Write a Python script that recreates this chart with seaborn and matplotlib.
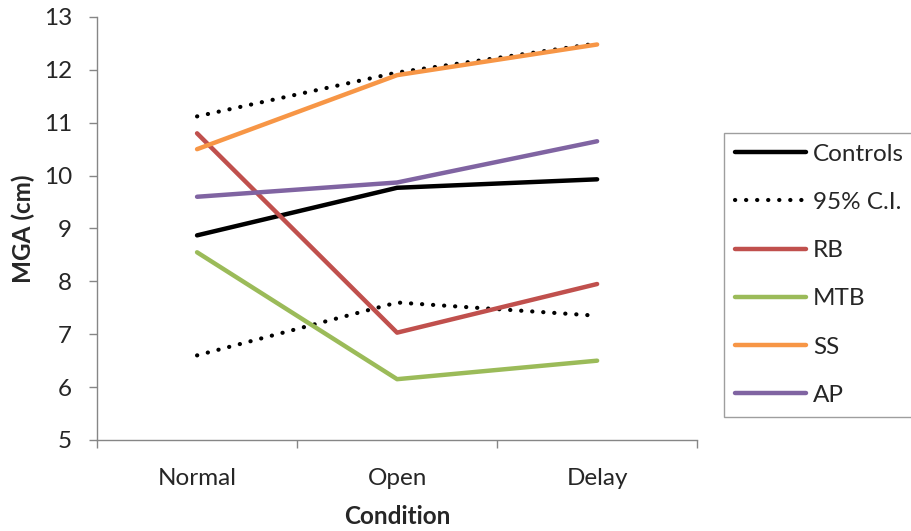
import matplotlib
matplotlib.use('Agg')
import matplotlib.pyplot as plt
import pandas as pd
import seaborn as sns

conditions = ['Normal', 'Open', 'Delay']
controls = [8.87, 9.77, 9.93]
ci_upper = [11.12, 11.95, 12.50]
ci_lower = [6.60, 7.60, 7.35]
rb = [10.80, 7.03, 7.95]
mtb = [8.55, 6.15, 6.50]
ss = [10.50, 11.90, 12.48]
ap = [9.60, 9.87, 10.65]

sns.set_style('white')
plt.rcParams['font.family'] = ['Lato', 'DejaVu Sans']

gray = '#868686'
fs = 17.5
fig = plt.figure(figsize=(9.12, 5.31), dpi=100)
ax = fig.add_axes([0.1064, 0.1714, 0.658, 0.7966])

x = list(range(len(conditions)))
series = [
    ('Controls', controls, '#000000', '-'),
    ('95% C.I.', ci_upper, '#000000', ':'),
    ('_ci_low', ci_lower, '#000000', ':'),
    ('RB', rb, '#C0504D', '-'),
    ('MTB', mtb, '#9BBB59', '-'),
    ('SS', ss, '#F79646', '-'),
    ('AP', ap, '#8064A2', '-'),
]
for name, vals, color, style in series:
    df = pd.DataFrame({'x': x, 'y': vals})
    if style == ':':
        sns.lineplot(data=df, x='x', y='y', ax=ax, color=color, lw=3,
                     linestyle=(0, (0.05, 2.6)), dash_capstyle='round',
                     label=name)
    else:
        sns.lineplot(data=df, x='x', y='y', ax=ax, color=color, lw=3.2,
                     solid_capstyle='round', label=name)

ax.set_xlim(-0.5, 2.5)
ax.set_ylim(5, 13)
ax.set_yticks(range(5, 14))
ax.set_xticks(x)
ax.set_xticklabels(conditions)
ax.set_xticks([-0.5, 0.5, 1.5, 2.5], minor=True)
ax.tick_params(axis='x', which='major', length=0, pad=20, labelsize=fs)
ax.tick_params(axis='x', which='minor', length=6, width=1, color=gray, direction='out')
ax.tick_params(axis='y', length=6, width=1, color=gray, direction='out', labelsize=fs, pad=12)
ax.xaxis.set_ticks_position('bottom')
ax.yaxis.set_ticks_position('left')
for side in ['top', 'right']:
    ax.spines[side].set_visible(False)
for side in ['left', 'bottom']:
    ax.spines[side].set_color(gray)
    ax.spines[side].set_linewidth(1)
ax.set_xlabel('Condition', fontsize=fs, fontweight='bold', labelpad=12)
ax.set_ylabel('MGA (cm)', fontsize=fs, fontweight='bold', labelpad=6)

handles, labels = ax.get_legend_handles_labels()
if ax.legend_:
    ax.legend_.remove()
leg = fig.legend(handles, labels, loc='upper left', bbox_to_anchor=(0.794, 0.75),
                 frameon=True, fancybox=False, fontsize=fs, handlelength=2.9,
                 labelspacing=1.12, borderpad=0.45, handletextpad=0.3,
                 borderaxespad=0)
leg.get_frame().set_edgecolor(gray)
leg.get_frame().set_linewidth(1)

fig.savefig('out.png', dpi=100)
